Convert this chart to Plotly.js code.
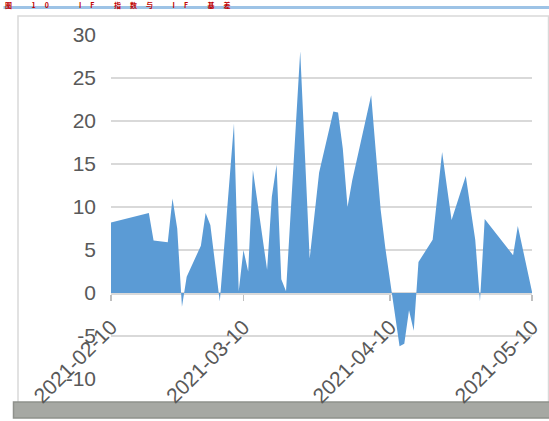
<!DOCTYPE html>
<html>
<head>
<meta charset="utf-8">
<script src="https://cdn.plot.ly/plotly-3.0.1.min.js"></script>
<style>
  html, body { margin: 0; padding: 0; background: #ffffff; }
  #chart { width: 549px; height: 421px; }
  .annotation-text { letter-spacing: 9px; }
</style>
</head>
<body>
<div id="chart"></div>
<script>
// ---- data ----
const dates = [
  '2021-02-10','2021-02-18','2021-02-19','2021-02-22','2021-02-23','2021-02-24','2021-02-25','2021-02-26',
  '2021-03-01','2021-03-02','2021-03-03','2021-03-04','2021-03-05','2021-03-08','2021-03-09','2021-03-10',
  '2021-03-11','2021-03-12','2021-03-15','2021-03-16','2021-03-17','2021-03-18','2021-03-19','2021-03-22',
  '2021-03-23','2021-03-24','2021-03-25','2021-03-26','2021-03-29','2021-03-30','2021-03-31','2021-04-01',
  '2021-04-02','2021-04-06','2021-04-07','2021-04-08','2021-04-09','2021-04-12','2021-04-13','2021-04-14',
  '2021-04-15','2021-04-16','2021-04-19','2021-04-20','2021-04-21','2021-04-22','2021-04-23','2021-04-26',
  '2021-04-27','2021-04-28','2021-04-29','2021-04-30','2021-05-06','2021-05-07','2021-05-10'
];
const values = [
  8.2, 9.3, 6.1, 5.9, 11.0, 7.5, -1.6, 1.9,
  5.5, 9.3, 7.9, 3.5, -1.0, 19.7, 0.2, 5.0,
  2.5, 14.3, 2.7, 11.2, 14.9, 1.6, 0.2, 28.1,
  16.5, 4.0, 9.0, 14.0, 21.1, 21.0, 16.8, 10.0,
  13.1, 23.0, 16.3, 9.7, 5.2, -6.2, -5.9, -2.0,
  -4.4, 3.6, 6.2, 11.4, 16.4, 12.4, 8.5, 13.6,
  9.9, 6.2, -1.0, 8.6, 4.4, 7.8, 0.15
];
const xTickVals = ['2021-02-10', '2021-03-10', '2021-04-10', '2021-05-10'];
const xTickText = ['2021-02-10', '2021-03-10', '2021-04-10', '2021-05-10'];
const yTickVals = [-10, -5, 0, 5, 10, 15, 20, 25, 30];
const yTickText = ['-10', '-5', '0', '5', '10', '15', '20', '25', '30'];
const titleText = '图 10  IF 指数与 IF 基差';

// ---- geometry helpers (pixel -> paper) ----
const W = 549, H = 421;
const M = { l: 111, r: 17, t: 35, b: 42 };
const PW = W - M.l - M.r, PH = H - M.t - M.b;
const px = x => (x - M.l) / PW;
const py = y => (H - M.b - y) / PH;

const trace = {
  type: 'scatter',
  mode: 'lines',
  x: dates,
  y: values,
  fill: 'tozeroy',
  fillcolor: '#5b9bd5',
  line: { width: 0, color: '#5b9bd5' },
  hoverinfo: 'x+y'
};

const tickFont = { family: 'Liberation Sans, Arial, sans-serif', size: 21, color: '#595959' };

const layout = {
  width: W, height: H,
  margin: M,
  paper_bgcolor: '#ffffff',
  plot_bgcolor: 'rgba(0,0,0,0)',
  showlegend: false,
  xaxis: {
    type: 'date',
    range: ['2021-02-10', '2021-05-10'],
    anchor: 'free',
    position: 0.25,
    tickmode: 'array',
    tickvals: xTickVals,
    ticktext: xTickText,
    tickangle: -45,
    tickfont: tickFont,
    ticks: 'outside',
    ticklen: 6,
    tickwidth: 1.3,
    tickcolor: '#bfbfbf',
    showline: true,
    linecolor: '#d9d9d9',
    linewidth: 1.5,
    showgrid: false,
    zeroline: false,
    layer: 'below traces',
    ticklabelstandoff: 6,
    automargin: false
  },
  yaxis: {
    range: [-10, 30],
    tickmode: 'array',
    tickvals: yTickVals,
    ticktext: yTickText,
    tickfont: tickFont,
    ticks: '',
    showgrid: true,
    gridcolor: '#d9d9d9',
    gridwidth: 1.5,
    zeroline: false,
    showline: false,
    ticklabelstandoff: 14,
    automargin: false
  },
  shapes: [
    // thin blue rule under the cropped title
    { type: 'line', xref: 'paper', yref: 'paper', layer: 'below',
      x0: px(3.5), x1: px(549), y0: py(7.5), y1: py(7.5),
      line: { color: '#9dc3e6', width: 3 } },
    // chart frame
    { type: 'rect', xref: 'paper', yref: 'paper', layer: 'below',
      x0: px(18), x1: px(548.5), y0: py(403), y1: py(16),
      line: { color: '#d9d9d9', width: 1.5 }, fillcolor: 'rgba(0,0,0,0)' },
    // grey bar at the bottom of the screenshot
    { type: 'rect', xref: 'paper', yref: 'paper', layer: 'below',
      x0: px(13.5), x1: px(560), y0: py(418), y1: py(402),
      line: { color: '#8f918c', width: 1.5 }, fillcolor: '#a6a8a3' }
  ],
  annotations: [
    { text: '<b>' + titleText + '</b>', xref: 'paper', yref: 'paper',
      x: px(4), y: py(-1), xanchor: 'left', yanchor: 'top', showarrow: false,
      borderpad: 0,
      font: { family: 'Noto Sans CJK SC, sans-serif', size: 7, color: '#c00000' } }
  ]
};

Plotly.newPlot('chart', [trace], layout, { displayModeBar: false, staticPlot: true });
</script>
</body>
</html>
